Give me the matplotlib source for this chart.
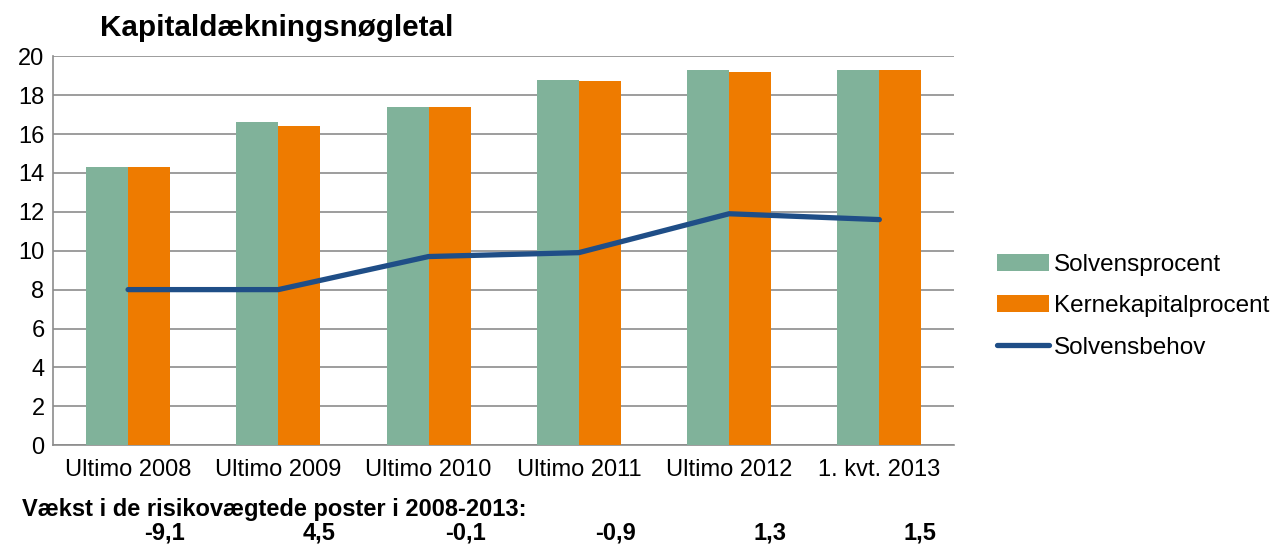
import numpy as np
import matplotlib
matplotlib.use('Agg')
import matplotlib.pyplot as plt

plt.rcParams['font.family'] = ['Liberation Sans', 'DejaVu Sans']

# data
categories = ['Ultimo 2008', 'Ultimo 2009', 'Ultimo 2010', 'Ultimo 2011', 'Ultimo 2012', '1. kvt. 2013']
solvensprocent = [14.3, 16.6, 17.4, 18.8, 19.3, 19.3]
kernekapital = [14.3, 16.4, 17.4, 18.7, 19.2, 19.3]
solvensbehov = [8.0, 8.0, 9.7, 9.9, 11.9, 11.6]
vaekst = ['-9,1', '4,5', '-0,1', '-0,9', '1,3', '1,5']
yticks = [0, 2, 4, 6, 8, 10, 12, 14, 16, 18, 20]

green = '#80b29a'
orange = '#ee7b00'
blue = '#1f4e87'
grid = '#8c8c8c'

fig = plt.figure(figsize=(12.76, 5.51), dpi=100)
ax = fig.add_axes([0.0415, 0.192, 0.7065, 0.706])

x = np.arange(len(categories))
w = 0.28
ax.bar(x - w / 2, solvensprocent, w, color=green, label='Solvensprocent', zorder=3)
ax.bar(x + w / 2, kernekapital, w, color=orange, label='Kernekapitalprocent', zorder=3)
ax.plot(x, solvensbehov, color=blue, lw=3.8, solid_capstyle='round',
        solid_joinstyle='round', label='Solvensbehov', zorder=4)

ax.set_xlim(-0.5, len(categories) - 0.5)
ax.set_ylim(0, 20)
ax.set_yticks(yticks)
ax.set_xticks(x)
ax.set_xticklabels(categories)
ax.tick_params(axis='both', length=0, labelsize=17, colors='black')
ax.tick_params(axis='x', pad=10)
ax.tick_params(axis='y', pad=6)
ax.yaxis.grid(True, color=grid, lw=1.2, zorder=0)
for s in ['top', 'right']:
    ax.spines[s].set_visible(False)
for s in ['left', 'bottom']:
    ax.spines[s].set_color(grid)
    ax.spines[s].set_linewidth(1.2)

fig.text(0.078, 0.95, 'Kapitaldækningsnøgletal', fontsize=21.3, fontweight='bold',
         va='center', ha='left')

h, l = ax.get_legend_handles_labels()
order = [1, 2, 0]
fig.legend([h[i] for i in order], [l[i] for i in order], loc='center left',
           bbox_to_anchor=(0.764, 0.444), frameon=False, fontsize=17.5,
           handlelength=2.15, handletextpad=0.2, labelspacing=0.8)

fig.text(0.017, 0.075, 'Vækst i de risikovægtede poster i 2008-2013:', fontsize=17,
         fontweight='bold', va='center', ha='left')
for i, v in enumerate(vaekst):
    ax.text(i + 0.38, -0.226, v, transform=ax.get_xaxis_transform(),
            fontsize=17, fontweight='bold', ha='right', va='center')

fig.savefig('out.png', dpi=100)
